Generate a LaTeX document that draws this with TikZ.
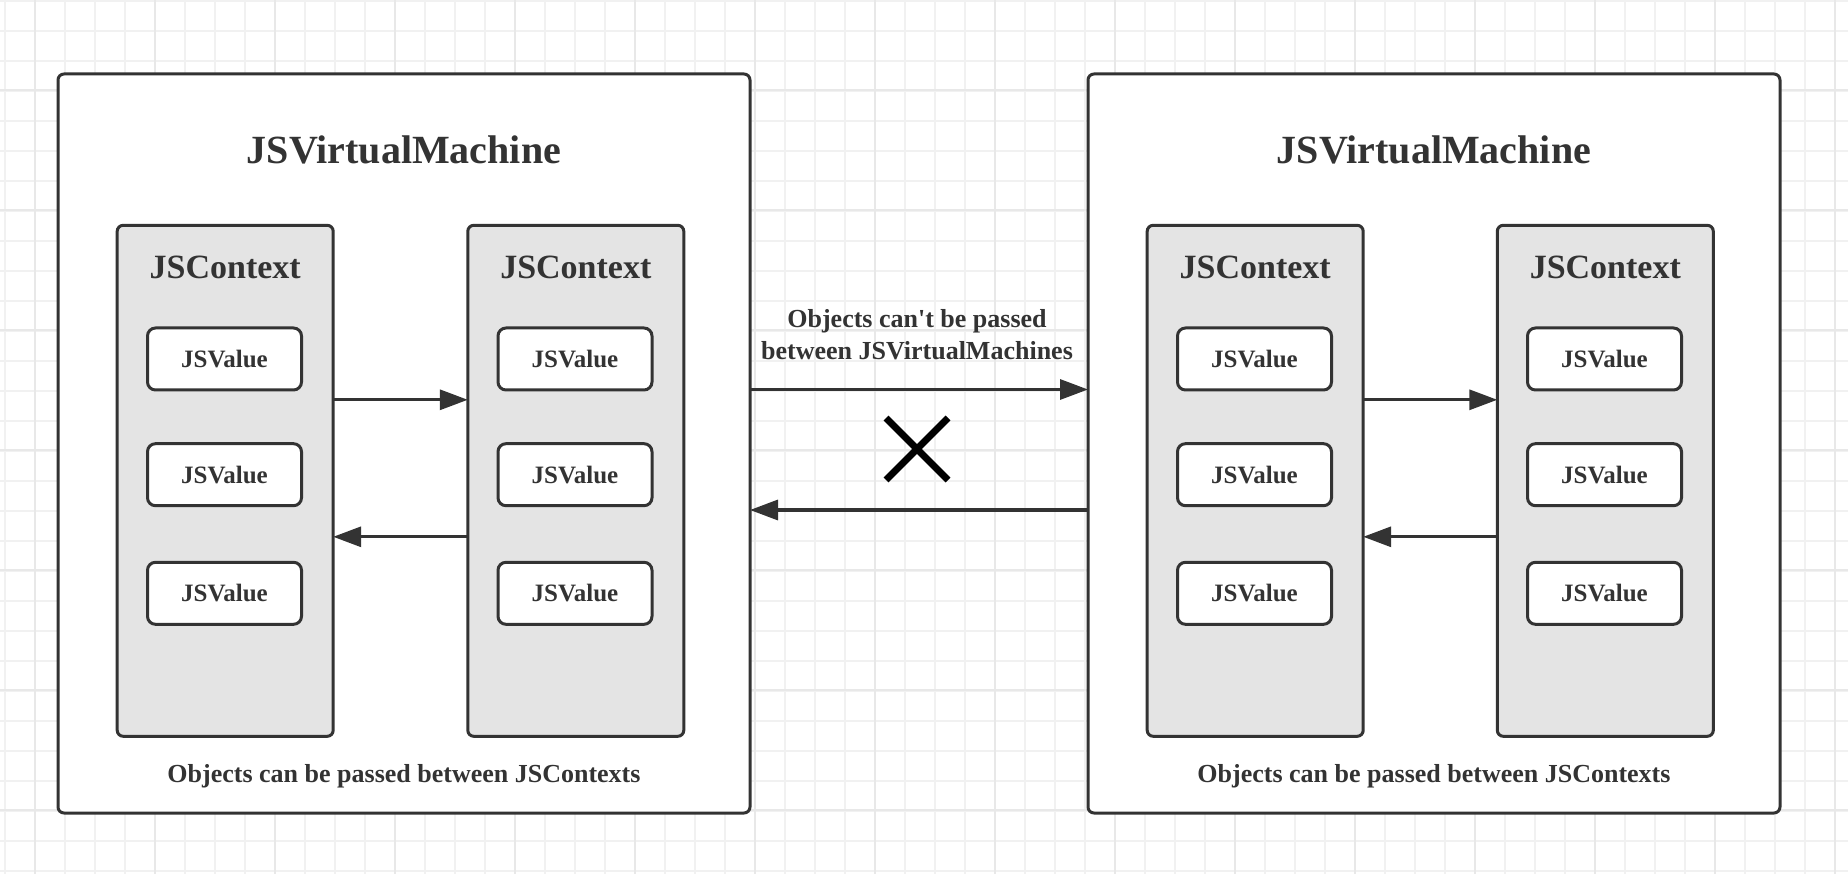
\documentclass[tikz,border=0pt]{standalone}
\usepackage{fontspec}
\setmainfont{Liberation Serif}[Ligatures=TeXOff]
\usepackage{xcolor}
\usepackage{tikz}
\usetikzlibrary{positioning, arrows.meta}
\definecolor{ink}{HTML}{333333}
\definecolor{ctxfill}{HTML}{E4E4E4}
\definecolor{gridminor}{HTML}{F1F1F1}
\definecolor{gridmajor}{HTML}{E8E8E8}

\begin{document}
\begin{tikzpicture}[x=1pt,y=-1pt]
	\tikzstyle{machine}=[rectangle,rounded corners=6pt,draw=ink,line width=3pt,fill=white,minimum width=692pt,minimum height=739pt,inner sep=0pt,outer sep=0pt]
	\tikzstyle{context}=[rectangle,rounded corners=6pt,draw=ink,line width=3pt,fill=ctxfill,minimum width=216pt,minimum height=511pt,inner sep=0pt,outer sep=0pt]
	\tikzstyle{jsvalue}=[rectangle,rounded corners=8pt,draw=ink,line width=3pt,fill=white,minimum width=154pt,minimum height=62pt,inner sep=0pt,text=ink,font=\fontsize{25}{30}\selectfont\bfseries]
	\tikzstyle{vmtitle}=[text=ink,font=\fontsize{40}{48}\selectfont\bfseries]
	\tikzstyle{ctxtitle}=[text=ink,font=\fontsize{34}{40}\selectfont\bfseries]
	\tikzstyle{caption}=[text=ink,align=center,font=\fontsize{26}{32}\selectfont\bfseries]
	\tikzstyle{pass}=[draw=ink,line width=3.2pt,-{Triangle[length=28pt,width=20pt]}]
	\useasboundingbox (0,0) rectangle (1848,874);
	\fill[white] (0,0) rectangle (1848,874);
	\draw[gridminor,line width=2pt,shift={(5,1)},step=30pt] (-5,-1) grid (1843,873);
	\draw[gridmajor,line width=2pt,shift={(35,90)},step=120pt] (-35,-90) grid (1813,784);

	\node[machine](vm1) at (404,443.5){};
	\node[machine](vm2) at (1434,443.5){};
	\node[vmtitle](t1) at (404,150){JSVirtualMachine};
	\node[vmtitle](t2) at (1434,150){JSVirtualMachine};

	\node[context](ctxA) at (225.2,480.8){};
	\node[context](ctxB) at (575.8,480.8){};
	\node[context](ctxC) at (1255.2,480.8){};
	\node[context](ctxD) at (1605.3,480.8){};
	\node[ctxtitle](cA) at (225.2,267.5){JSContext};
	\node[ctxtitle](cB) at (575.8,267.5){JSContext};
	\node[ctxtitle](cC) at (1255.2,267.5){JSContext};
	\node[ctxtitle](cD) at (1605.3,267.5){JSContext};

	\node[jsvalue](vA1) at (224.5,359){JSValue};
	\node[jsvalue](vA2) at (224.5,474.7){JSValue};
	\node[jsvalue](vA3) at (224.5,593.3){JSValue};
	\node[jsvalue](vB1) at (575,359){JSValue};
	\node[jsvalue](vB2) at (575,474.7){JSValue};
	\node[jsvalue](vB3) at (575,593.3){JSValue};
	\node[jsvalue](vC1) at (1254.5,359){JSValue};
	\node[jsvalue](vC2) at (1254.5,474.7){JSValue};
	\node[jsvalue](vC3) at (1254.5,593.3){JSValue};
	\node[jsvalue](vD1) at (1604.5,359){JSValue};
	\node[jsvalue](vD2) at (1604.5,474.7){JSValue};
	\node[jsvalue](vD3) at (1604.5,593.3){JSValue};

	\node[caption](n1) at (404,776){Objects can be passed between JSContexts};
	\node[caption](n2) at (1434,776){Objects can be passed between JSContexts};
	\node[caption](n3) at (917,335){Objects can't be passed\\between JSVirtualMachines};

	\path
		([yshift=81pt]ctxA.east) edge[pass] ([yshift=81pt]ctxB.west)
		([yshift=-56pt]ctxB.west) edge[pass] ([yshift=-56pt]ctxA.east)
		([yshift=81pt]ctxC.east) edge[pass] ([yshift=81pt]ctxD.west)
		([yshift=-56pt]ctxD.west) edge[pass] ([yshift=-56pt]ctxC.east)
		([yshift=54pt]vm1.east) edge[pass] ([yshift=54pt]vm2.west)
		([yshift=-66.5pt]vm2.west) edge[pass] ([yshift=-66.5pt]vm1.east);

	\draw[black,line width=7pt] (886,418) -- (948,480) (886,480) -- (948,418);
\end{tikzpicture}
\end{document}
